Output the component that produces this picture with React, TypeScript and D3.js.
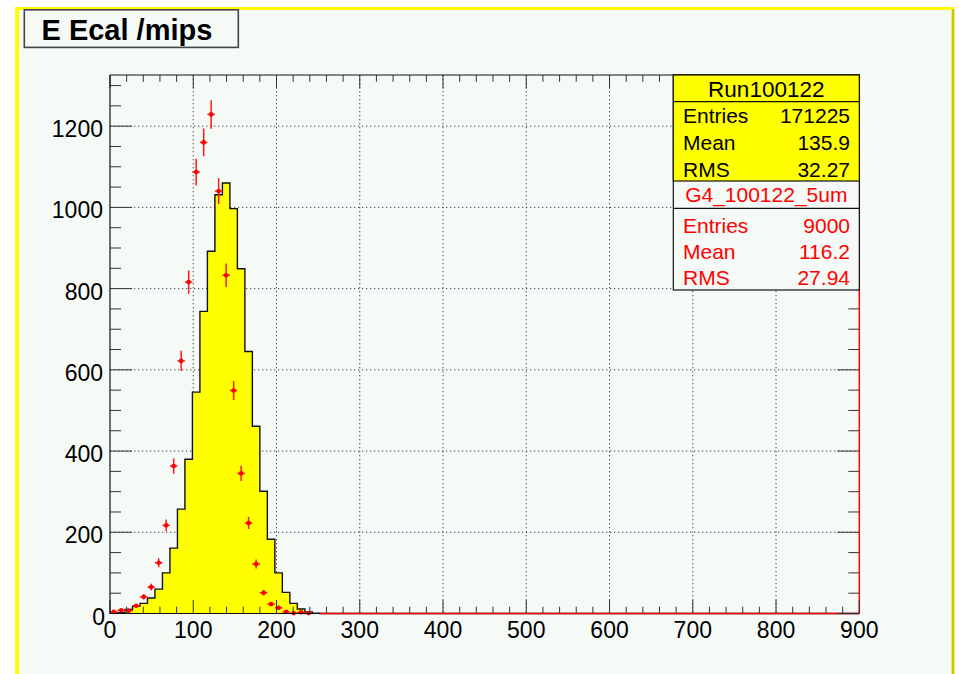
import React from "react";
import * as d3 from "d3";

// ---- data ----
const nBins = 100;
const xMin = 0;
const xMax = 900;
const yellowCounts = [1, 2, 10, 18, 25, 38, 60, 100, 161, 257, 380, 545, 744, 892, 1031, 1060, 997, 849, 645, 461, 301, 183, 100, 52, 25, 11, 4, 1];
const redCounts = [4, 8, 7, 19, 41, 65, 125, 217, 363, 622, 816, 1087, 1160, 1229, 1040, 833, 549, 345, 223, 122, 51, 23, 14, 4, 1, 3, 1];
const redZeroFrom = 252; // red zero-line starts (x units)
const xTicks = [0, 100, 200, 300, 400, 500, 600, 700, 800, 900];
const yTicks = [0, 200, 400, 600, 800, 1000, 1200];
const yMaxDomain = 1326;
const title = "E Ecal /mips";
const stats1Name = "Run100122";
const stats1 = [["Entries", "171225"], ["Mean", "135.9"], ["RMS", "32.27"]];
const stats2Name = "G4_100122_5um";
const stats2 = [["Entries", "9000"], ["Mean", "116.2"], ["RMS", "27.94"]];

const W = 959;
const H = 674;
const L = 110, R = 859.3, T = 75, B = 613.5;
const BG = "rgb(245,250,247)";
const FONT = "'Liberation Sans', Arial, Helvetica, sans-serif";

export default function App() {
  const x = d3.scaleLinear().domain([xMin, xMax]).range([L, R]);
  const y = d3.scaleLinear().domain([0, yMaxDomain]).range([B, T]);
  const bw = (xMax - xMin) / nBins;
  const full = d3.range(nBins).map((i) => yellowCounts[i] ?? 0);

  // histogram outline
  let p = `M${x(0)},${y(0)}`;
  full.forEach((c, i) => {
    p += `L${x(i * bw)},${y(c)}L${x((i + 1) * bw)},${y(c)}`;
  });
  p += `L${x(xMax)},${y(0)}`;
  const fillPath = p + "Z";

  const xMinor = d3.range(0, xMax + 0.1, 20);
  const yMinor = d3.range(0, yMaxDomain, 50);
  const tickColor = "#333";

  return (
    <svg width={W} height={H} style={{ position: "absolute", left: 0, top: 0 }} fontFamily={FONT}>
      <rect x={0} y={0} width={W} height={H} fill="#ffffff" />
      <rect x={15} y={7} width={939.3} height={H - 7} fill="#ffff00" />
      <rect x={19} y={10} width={932.7} height={H - 10} fill={BG} />
      <rect x={951.7} y={9} width={2.6} height={H - 9} fill="#c8c800" />

      {/* grid */}
      <g stroke="#444" strokeWidth={1} strokeDasharray="1.3,2.7">
        {xTicks.filter((t) => t > 0 && t < xMax).map((t) => (
          <line key={"gx" + t} x1={x(t)} x2={x(t)} y1={T} y2={B} />
        ))}
        {yTicks.filter((t) => t > 0).map((t) => (
          <line key={"gy" + t} x1={L} x2={R} y1={y(t)} y2={y(t)} />
        ))}
      </g>

      {/* yellow histogram */}
      <path d={fillPath} fill="#ffff00" stroke="none" />
      <path d={p} fill="none" stroke="#111" strokeWidth={1.4} />

      {/* red zero line */}
      <line x1={x(redZeroFrom)} x2={x(xMax)} y1={y(0)} y2={y(0)} stroke="#ff0000" strokeWidth={1.5} />
      <line x1={R} x2={R} y1={T} y2={B} stroke="#ff0000" strokeWidth={1.5} />

      {/* red points */}
      <g stroke="#ff1a1a" strokeWidth={1.5} fill="#ff0000">
        {redCounts.map((c, i) => {
          const cx = x((i + 0.5) * bw);
          const e = Math.sqrt(c);
          return (
            <g key={"r" + i}>
              <line x1={cx} x2={cx} y1={y(c + e)} y2={Math.min(y(Math.max(c - e, 0)), B)} />
              <line x1={x(i * bw)} x2={x((i + 1) * bw)} y1={y(c)} y2={y(c)} />
              <circle cx={cx} cy={y(c)} r={2.3} stroke="none" />
            </g>
          );
        })}
      </g>

      {/* ticks */}
      <g stroke={tickColor} strokeWidth={1}>
        {xMinor.map((t) => {
          const major = t % 100 === 0;
          const len = major ? 13.5 : 6.8;
          return (
            <g key={"xt" + t}>
              <line x1={x(t)} x2={x(t)} y1={B} y2={B - len} />
              <line x1={x(t)} x2={x(t)} y1={T} y2={T + len} />
            </g>
          );
        })}
        {yMinor.map((t) => {
          const major = t % 200 === 0;
          const len = major ? 22 : 11;
          return (
            <g key={"yt" + t}>
              <line x1={L} x2={L + len} y1={y(t)} y2={y(t)} />
              <line x1={R} x2={R - len} y1={y(t)} y2={y(t)} />
            </g>
          );
        })}
      </g>

      {/* frame */}
      <line x1={L} x2={L} y1={T} y2={B} stroke="#111" strokeWidth={1.2} />
      <line x1={L} x2={R} y1={T} y2={T} stroke="#111" strokeWidth={1.2} />
      <line x1={L} x2={x(redZeroFrom)} y1={B} y2={B} stroke="#111" strokeWidth={1.2} />

      {/* tick labels */}
      <g fontSize={23} fill="#000">
        {xTicks.map((t) => (
          <text key={"xl" + t} x={x(t)} y={638} textAnchor="middle">{t}</text>
        ))}
        {yTicks.map((t) => (
          <text key={"yl" + t} x={t === 0 ? 105 : 103} y={y(t) + 11} textAnchor="end">{t}</text>
        ))}
      </g>

      {/* stats box */}
      <g fontSize={21}>
        <rect x={673.3} y={75} width={R - 673.3} height={215} fill={BG} stroke="#111" strokeWidth={1.2} />
        <rect x={673.3} y={75} width={R - 673.3} height={106} fill="#ffff00" stroke="#111" strokeWidth={1.2} />
        <line x1={673.3} x2={R} y1={101.7} y2={101.7} stroke="#111" strokeWidth={1.2} />
        <line x1={673.3} x2={R} y1={208.3} y2={208.3} stroke="#111" strokeWidth={1.2} />
        <text x={(673.3 + R) / 2} y={97} textAnchor="middle" fill="#000" fontSize={22.5}>{stats1Name}</text>
        {stats1.map((s, i) => (
          <g key={"s1" + i} fill="#000">
            <text x={683} y={123.3 + i * 26.8}>{s[0]}</text>
            <text x={850} y={123.3 + i * 26.8} textAnchor="end">{s[1]}</text>
          </g>
        ))}
        <text x={(673.3 + R) / 2} y={201.7} textAnchor="middle" fill="#ff0000">{stats2Name}</text>
        {stats2.map((s, i) => (
          <g key={"s2" + i} fill="#ff0000">
            <text x={683} y={233.3 + i * 26} >{s[0]}</text>
            <text x={850} y={233.3 + i * 26} textAnchor="end">{s[1]}</text>
          </g>
        ))}
      </g>

      {/* title */}
      <rect x={24.3} y={9.8} width={214} height={37.6} fill={BG} stroke="#444" strokeWidth={1.6} />
      <text x={41.5} y={39.5} fontSize={29} fontWeight="bold" fill="#000">{title}</text>
    </svg>
  );
}
